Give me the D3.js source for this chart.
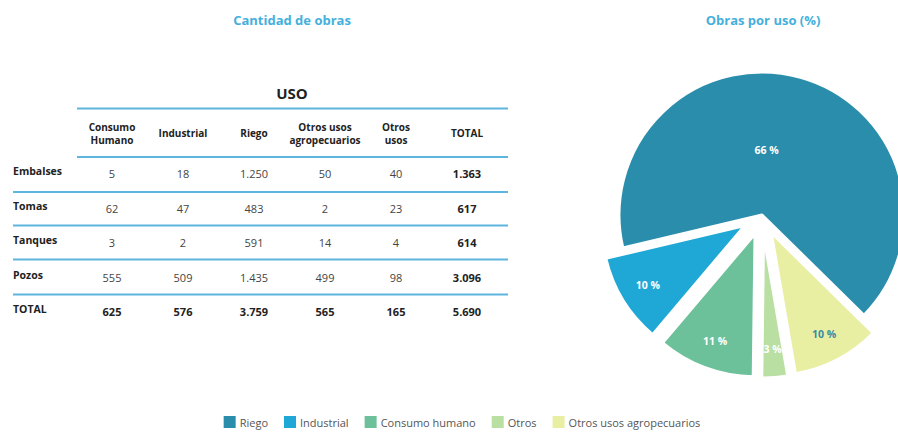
<!DOCTYPE html>
<html>
<head>
<meta charset="utf-8">
<script src="https://cdn.jsdelivr.net/npm/d3@7"></script>
<style>
  html, body { margin: 0; padding: 0; background: #ffffff; }
  svg { display: block; font-family: "Open Sans", "DejaVu Sans", sans-serif; }
</style>
</head>
<body>
<svg id="chart" width="898" height="432"></svg>
<script>
// ---------- DATA ----------
const tableTitle = "Cantidad de obras";
const pieTitle = "Obras por uso (%)";
const groupHeader = "USO";
const columnHeaders = [["Consumo", "Humano"], ["Industrial"], ["Riego"], ["Otros usos", "agropecuarios"], ["Otros", "usos"], ["TOTAL"]];
const rowLabels = ["Embalses", "Tomas", "Tanques", "Pozos", "TOTAL"];
const embalses = ["5", "18", "1.250", "50", "40", "1.363"];
const tomas = ["62", "47", "483", "2", "23", "617"];
const tanques = ["3", "2", "591", "14", "4", "614"];
const pozos = ["555", "509", "1.435", "499", "98", "3.096"];
const totals = ["625", "576", "3.759", "565", "165", "5.690"];
const tableRows = [embalses, tomas, tanques, pozos, totals];

const pieCategories = ["Riego", "Otros usos agropecuarios", "Otros", "Consumo humano", "Industrial"];
const pieValues = [3759, 565, 165, 625, 576];
const pieColors = ["#2a8dab", "#e9efa2", "#b9dfa3", "#6cc09a", "#1fa8d6"];
const labelColors = ["#ffffff", "#3a8aa6", "#ffffff", "#ffffff", "#ffffff"];

const legendItems = ["Riego", "Industrial", "Consumo humano", "Otros", "Otros usos agropecuarios"];
const legendColors = ["#2a8dab", "#1fa8d6", "#6cc09a", "#b9dfa3", "#e9efa2"];

// ---------- DRAW ----------
const svg = d3.select("#chart");
const titleColor = "#45b0db";
const lineColor = "#5cb6de";

// Titles
svg.append("text").attr("x", 292).attr("y", 25).attr("text-anchor", "middle")
  .attr("font-size", 13).attr("font-weight", 700).attr("fill", titleColor).text(tableTitle);
svg.append("text").attr("x", 763).attr("y", 25).attr("text-anchor", "middle")
  .attr("font-size", 13).attr("font-weight", 700).attr("fill", titleColor).text(pieTitle);

// ---------- TABLE ----------
const colX = d3.scalePoint().domain(d3.range(columnHeaders.length)).range([112, 467]);
const rowY = d3.scalePoint().domain(d3.range(rowLabels.length)).range([175, 313]);

svg.append("text").attr("x", 292).attr("y", 99).attr("text-anchor", "middle")
  .attr("font-size", 15).attr("font-weight", 700).attr("fill", "#222").text(groupHeader);

const tableRight = 508;
[108.5, 157].forEach(y => {
  svg.append("line").attr("x1", 77).attr("x2", tableRight).attr("y1", y).attr("y2", y)
    .attr("stroke", lineColor).attr("stroke-width", 2.2);
});
[192, 225.5, 259.5, 294.5].forEach(y => {
  svg.append("line").attr("x1", 13).attr("x2", tableRight).attr("y1", y).attr("y2", y)
    .attr("stroke", lineColor).attr("stroke-width", 2.2);
});

// column headers
columnHeaders.forEach((lines, i) => {
  const t = svg.append("text").attr("text-anchor", "middle")
    .attr("font-size", 10).attr("font-weight", 700).attr("fill", "#222");
  const startY = lines.length === 1 ? 137 : 130.5;
  lines.forEach((ln, j) => {
    t.append("tspan").attr("x", colX(i)).attr("y", startY + j * 13).text(ln);
  });
});

// rows
rowLabels.forEach((lab, r) => {
  svg.append("text").attr("x", 13).attr("y", rowY(r)).attr("font-size", 10.5)
    .attr("font-weight", 700).attr("fill", "#222").text(lab);
  tableRows[r].forEach((v, c) => {
    const bold = (r === rowLabels.length - 1) || (c === columnHeaders.length - 1);
    svg.append("text").attr("x", colX(c)).attr("y", rowY(r) + 3).attr("text-anchor", "middle")
      .attr("font-size", 11).attr("font-weight", bold ? 700 : 400)
      .attr("fill", bold ? "#222" : "#444").text(v);
  });
});

// ---------- PIE ----------
const cx = 762, cy = 215, R = 143, explode = 20;
const startA = -1.803;
const pie = d3.pie().sort(null).value(d => d).startAngle(startA).endAngle(startA + 2 * Math.PI);
const arcs = pie(pieValues);
const arcGen = d3.arc().innerRadius(0).outerRadius(R);
const total = d3.sum(pieValues);

const pg = svg.append("g").attr("transform", `translate(${cx},${cy})`);
arcs.forEach((a, i) => {
  const mid = (a.startAngle + a.endAngle) / 2;
  const off = i === 0 ? 0 : explode;
  const dx = off * Math.sin(mid), dy = -off * Math.cos(mid);
  const g = pg.append("g").attr("transform", `translate(${dx},${dy})`);
  g.append("path").attr("d", arcGen(a)).attr("fill", pieColors[i])
    .attr("stroke", "#ffffff").attr("stroke-width", 3).attr("stroke-linejoin", "round");
  const lr = i === 0 ? 65 : 114;
  const la = i === 0 ? mid - 0.2 : mid;
  g.append("text").attr("x", lr * Math.sin(la)).attr("y", -lr * Math.cos(la) + 4)
    .attr("text-anchor", "middle").attr("font-size", 10.5).attr("font-weight", 700)
    .attr("fill", labelColors[i])
    .text(Math.round(pieValues[i] / total * 100) + " %");
});

// ---------- LEGEND ----------
const lg = svg.append("g");
const items = legendItems.map((name, i) => {
  const it = lg.append("g");
  it.append("rect").attr("x", 0).attr("y", 416).attr("width", 12).attr("height", 12)
    .attr("fill", legendColors[i]);
  const t = it.append("text").attr("x", 16).attr("y", 426.5).attr("font-size", 11)
    .attr("fill", "#555").text(name);
  return { g: it, w: 16 + t.node().getComputedTextLength() };
});
const gap = 16;
const totalW = d3.sum(items, d => d.w) + gap * (items.length - 1);
let x = 462 - totalW / 2;
items.forEach(d => { d.g.attr("transform", `translate(${x},0)`); x += d.w + gap; });
</script>
</body>
</html>
